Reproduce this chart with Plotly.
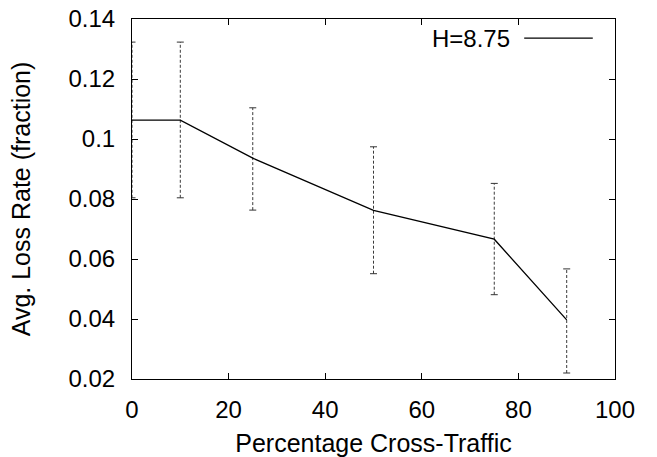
import plotly.graph_objects as go

# Percentage of cross-traffic and mean loss rate with min/max spread
cross_traffic = [0, 10, 25, 50, 75, 90]
loss_rate = [0.1063, 0.1063, 0.0936, 0.0762, 0.0666, 0.0397]
loss_low = [0.0804, 0.0804, 0.0763, 0.0551, 0.0481, 0.0220]
loss_high = [0.1323, 0.1323, 0.1104, 0.0974, 0.0852, 0.0567]
series_name = "H=8.75"

y_ticks = [0.02, 0.04, 0.06, 0.08, 0.1, 0.12, 0.14]
x_ticks = [0, 20, 40, 60, 80, 100]

FONT = "Liberation Sans, Arial, Helvetica, sans-serif"
FS = 24
FS_TITLE = 25

fig = go.Figure()

# dashed vertical error bars, one segment per point
bar_x, bar_y = [], []
for x, lo, hi in zip(cross_traffic, loss_low, loss_high):
    bar_x += [x, x, None]
    bar_y += [lo, hi, None]
fig.add_trace(go.Scatter(
    x=bar_x, y=bar_y, mode="lines",
    line=dict(color="#3a3a3a", width=1, dash="3px,2px"),
    showlegend=False, hoverinfo="skip", cliponaxis=False,
))

# small caps at the ends of the bars
cap_x = cross_traffic + cross_traffic
cap_y = loss_low + loss_high
fig.add_trace(go.Scatter(
    x=cap_x, y=cap_y, mode="markers",
    marker=dict(symbol="line-ew", size=5, line=dict(color="#333333", width=1)),
    showlegend=False, hoverinfo="skip",
))

# mean loss rate line
fig.add_trace(go.Scatter(
    x=cross_traffic, y=loss_rate, mode="lines",
    line=dict(color="black", width=1.3),
    name=series_name, showlegend=False,
))

# gnuplot-style key: label followed by line sample
fig.add_annotation(
    x=0.787, y=0.947, xref="paper", yref="paper",
    text=series_name, showarrow=False, xanchor="right", yanchor="middle",
    font=dict(family=FONT, size=FS, color="black"),
)
fig.add_shape(
    type="line", xref="paper", yref="paper",
    x0=0.812, x1=0.954, y0=0.947, y1=0.947,
    line=dict(color="black", width=1.3),
)

axis_common = dict(
    showline=True, linecolor="black", linewidth=1, mirror="allticks",
    ticks="inside", ticklen=6, tickcolor="black", tickwidth=1,
    showgrid=False, zeroline=False, automargin=False,
    tickfont=dict(family=FONT, size=FS, color="black"),
)

fig.update_xaxes(
    range=[0, 100], tickvals=x_ticks, ticktext=[str(v) for v in x_ticks],
    ticklabelstandoff=9,
    title=dict(text="Percentage Cross-Traffic", font=dict(family=FONT, size=FS_TITLE, color="black"), standoff=16),
    **axis_common,
)
fig.update_yaxes(
    range=[0.02, 0.14], tickvals=y_ticks, ticktext=[f"{v:g}" for v in y_ticks],
    ticklabelstandoff=11,
    title=dict(text="Avg. Loss Rate (fraction)", font=dict(family=FONT, size=FS_TITLE, color="black"), standoff=30),
    **axis_common,
)

fig.update_layout(
    width=657, height=457,
    margin=dict(l=132, r=42, t=19, b=78),
    plot_bgcolor="white", paper_bgcolor="white",
    showlegend=False,
)

fig.write_html("out.html")
